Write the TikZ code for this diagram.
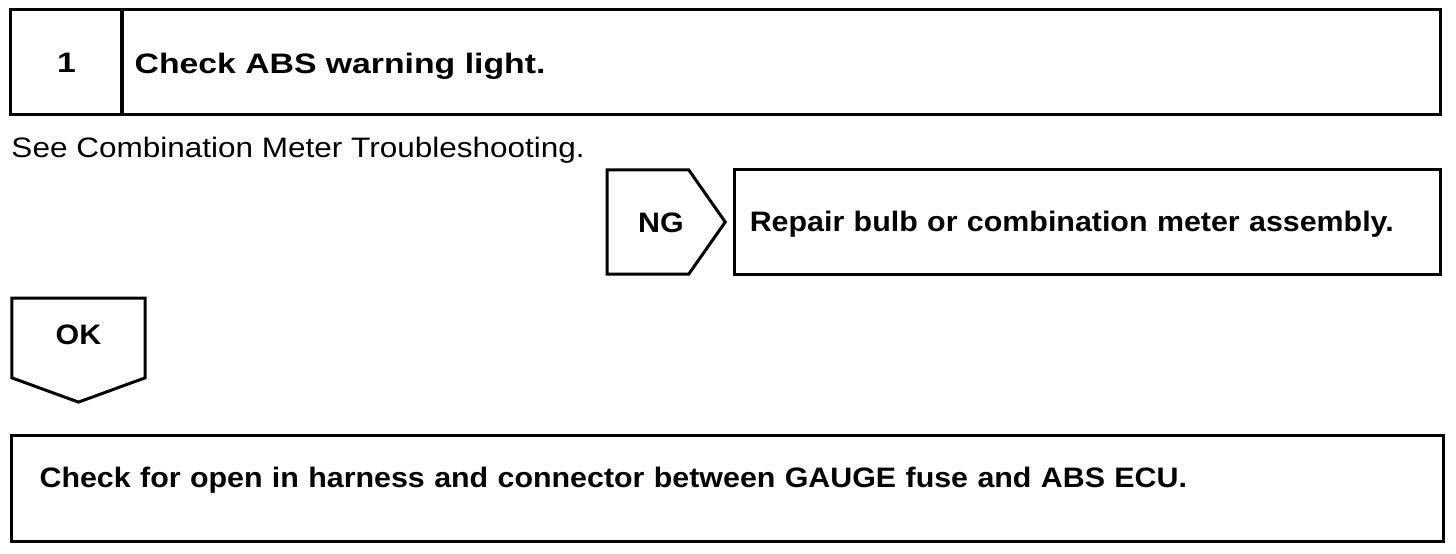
\documentclass[tikz,border=0pt]{standalone}
\usepackage{fontspec}
\newfontfamily\plainsans{Liberation Sans}[FakeStretch=1.12]
\newfontfamily\boldsans{Liberation Sans Bold}[FakeStretch=1.2]
\newfontfamily\narrowsans{Liberation Sans Bold}[FakeStretch=1.08]
\usetikzlibrary{positioning, shapes.symbols}

\begin{document}
\begin{tikzpicture}[
    x=0.01cm, y=-0.01cm,
    line width=0.85pt,
    font=\fontsize{8}{10}\selectfont\narrowsans,
    frame/.style={draw, inner sep=0pt, minimum height=1.04cm},
    stepno/.style={frame, minimum width=1.11cm, text height=0.3cm, text depth=0.1cm},
    titlebox/.style={frame, inner xsep=0.13cm, align=left, text height=0.3cm, text depth=0.18cm},
    tag/.style={draw, shape=signal, inner sep=0pt, text height=0.3cm, text depth=0.1cm},
    note/.style={font=\fontsize{8}{10}\selectfont\plainsans, inner sep=0pt}
]
\useasboundingbox (0,0) rectangle (1456,554);

% step header
\node[stepno, font=\fontsize{8}{10}\selectfont\boldsans] (num) at (66.5,62) {1};
\node[titlebox, font=\fontsize{8}{10}\selectfont\boldsans, text width=12.92cm,
      text height=0.4cm, text depth=0.18cm] (title) at (781,62) {Check ABS warning light.};

\node[note, anchor=base west] (see) at (10,157) {See Combination Meter Troubleshooting.};

% NG branch
\node[tag, signal to=east, signal pointer angle=110,
      minimum width=1.18cm, minimum height=1.04cm] (ng) at (648,222) {\hspace*{0.26cm}NG};
\node[titlebox, inner xsep=0.15cm, text width=6.75cm, text height=0.34cm, text depth=0.16cm]
    (repair) at (1087.5,222) {Repair bulb or combination meter assembly.};

% OK branch
\node[tag, signal to=south, signal pointer angle=140, text height=0.26cm, text depth=0.14cm,
      minimum width=1.33cm, minimum height=0.88cm] (ok) at (78.5,338) {OK};

\node[titlebox, inner xsep=0.28cm, text width=13.75cm, minimum height=1.05cm,
      text height=0.2cm, text depth=0.23cm]
    (next) at (727.5,488.5) {Check for open in harness and connector between GAUGE fuse and ABS ECU.};
\end{tikzpicture}
\end{document}
